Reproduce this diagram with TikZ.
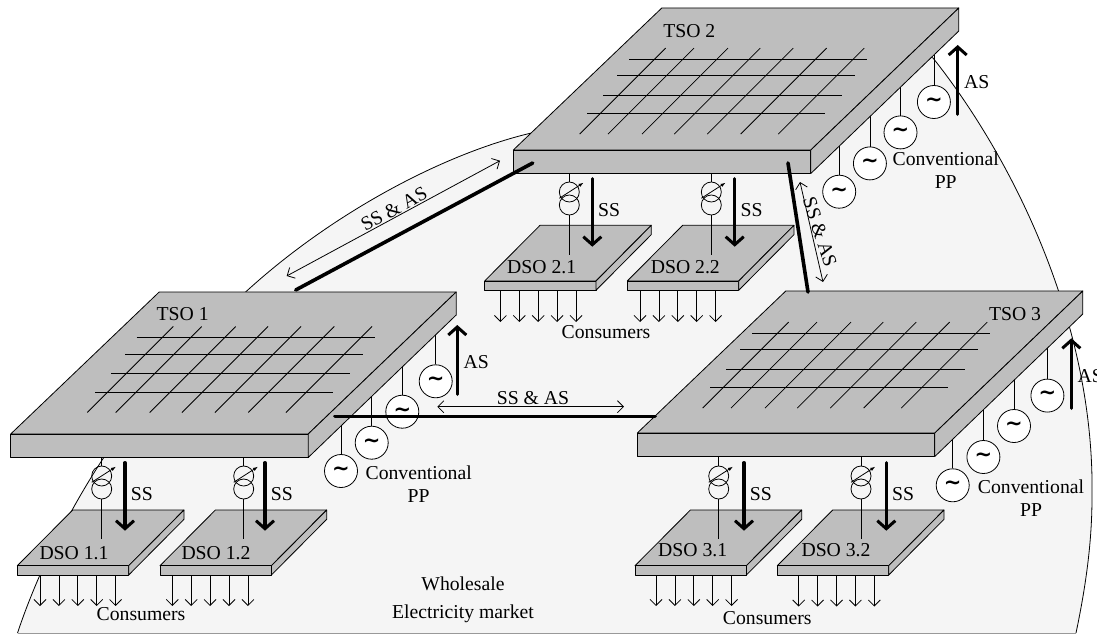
\documentclass[tikz,border=0pt]{standalone}
\usepackage{amsmath,amssymb,fontspec}
\setmainfont{Liberation Serif}
\newfontfamily\tildefont{DejaVu Sans}
\usetikzlibrary{arrows.meta}
\definecolor{figP}{RGB}{190,190,190}
\definecolor{figM}{RGB}{245,245,245}

\begin{document}
\begin{tikzpicture}[x=1pt,y=-1pt,line width=0.8pt,font=\fontsize{19.7}{23}\selectfont,
  plate/.style={draw=black,fill=figP,line join=round},
  gen/.style={draw,circle,fill=white,minimum size=33pt,inner sep=0pt,font=\fontsize{21}{21}\tildefont\bfseries},
  trafo/.style={draw,circle,minimum size=20pt,inner sep=0pt},
  txt/.style={inner sep=0pt,align=center},
  power/.style={line width=3.4pt,line cap=round,-{Straight Barb[length=8pt,width=18pt,line width=3pt]}},
  tie/.style={line width=3.6pt,line cap=round},
  flow/.style={{Straight Barb[length=6pt,width=12pt]}-{Straight Barb[length=6pt,width=12pt]}},
  load/.style={-{Straight Barb[length=6pt,width=12pt]}}]
\useasboundingbox (0,0) rectangle (1097,634);
% market area behind everything
\def\marketline{(17.5,633) .. controls (52,530) and (125,400) .. (246.7,291)
  .. controls (330,215) and (440,155) .. (530,133.3)
  .. controls (620,109) and (860,30) .. (933,58)
  .. controls (1010,155) and (1095,320) .. (1092,497)
  .. controls (1092,545) and (1085,590) .. (1076,633)}
\fill[figM] \marketline -- cycle;
\draw \marketline;
\draw[black!40] (17.5,633) -- (1076,633);
% generators and their leads
\foreach \t/\dx/\dy in {1/0/0,2/498.2/-279.3,3/611.7/14.3}{
  \foreach \g/\gx/\gy/\ly in {a/341/471/425,b/371.7/442.7/395,c/402.3/411.7/365,d/435.7/381.3/334}{
    \node[gen] (gen\t\g) at (\gx+\dx,\gy+\dy) {\char`\~};
    \coordinate (lead\t\g) at (\gx+\dx,\ly+\dy);
    \draw (gen\t\g) -- (lead\t\g);
  }
}
% TSO plates with their grids
\foreach \t/\ox/\oy/\gx/\gy in {1/10.7/434/0/0,2/513.3/150/492.3/-278.4,3/637.3/433/615.3/-4.4}{
  \begin{scope}[shift={(\ox,\oy)}]
    \draw[plate] (0,0) -- (148.5,-142) -- (445.5,-142) -- (297.5,0) -- cycle;
    \draw[plate] (0,0) rectangle (297.5,23.5);
    \draw[plate] (297.5,0) -- (445.5,-142) -- (445.5,-119) -- (297.5,23.5) -- cycle;
  \end{scope}
  \begin{scope}[shift={(\gx,\gy)}]
    \foreach \y/\xa/\xb in {337.7/136.7/375,354/125/363,373.3/111/350,392/95/333}
      \draw (\xa,\y) -- (\xb,\y);
    \foreach \x in {87.3,115.7,149.7,182,215,248.3,286}
      \draw (\x,412.5) -- (\x+86,326.5);
  \end{scope}
}
\node[txt] (tso1) at (182.7,314.3) {TSO 1};
\node[txt] (tso2) at (689.3,30.7) {TSO 2};
\node[txt] (tso3) at (1015,314.3) {TSO 3};
% DSO plates and consumers
\foreach \d/\ox/\oy/\first/\tip in {11/17.3/565.7/22.7/606,12/160/565.7/12.3/606,21/484.6/281/15.8/322,22/627.3/281/12.7/322,31/635/565.7/21/606,32/777.3/565.7/21.4/606.5}{
  \begin{scope}[shift={(\ox,\oy)}]
    \draw[plate] (0,0) -- (55.4,-55.7) -- (166.7,-55.7) -- (111.4,0) -- cycle;
    \draw[plate] (0,0) rectangle (111.4,9.3);
    \draw[plate] (111.4,0) -- (166.7,-55.7) -- (166.7,-46.4) -- (111.4,9.3) -- cycle;
  \end{scope}
  \foreach \i in {0,1,2,3,4}{
    \coordinate (out\d\i) at (\ox+\first+18.9*\i,\oy+9.3);
    \coordinate (end\d\i) at (\ox+\first+18.9*\i,\tip);
    \draw[load] (out\d\i) -- (end\d\i);
  }
}
\node[txt] (dso11) at (74,553.3) {DSO 1.1};
\node[txt] (dso12) at (216,553.3) {DSO 1.2};
\node[txt] (dso21) at (541.7,267.3) {DSO 2.1};
\node[txt] (dso22) at (685.3,267.3) {DSO 2.2};
\node[txt] (dso31) at (692.7,550) {DSO 3.1};
\node[txt] (dso32) at (836,550) {DSO 3.2};
% transformers and SS arrows
\foreach \d/\tx/\ty/\sx in {11/101.7/457/125,12/243.7/457/265,21/569.3/173/592.3,22/711.3/173/734.7,31/718.7/457/744,32/861/457/886.3}{
  \node[trafo] (up\d) at (\tx,\ty+19) {};
  \node[trafo] (lo\d) at (\tx,\ty+32) {};
  \coordinate (top\d) at (\tx,\ty);
  \coordinate (bot\d) at (\tx,\ty+82);
  \draw (top\d) -- (up\d);
  \draw (lo\d) -- (bot\d);
  \draw[-{Latex[length=5pt,width=3.5pt]}] (\tx-10,\ty+25.3) -- (\tx+14.3,\ty+9.7);
  \coordinate (ssa\d) at (\sx,\ty+5.7);
  \coordinate (ssb\d) at (\sx,\ty+73.7);
  \draw[power] (ssa\d) -- (ssb\d);
  \node[txt,anchor=west] (ss\d) at (\sx+5.5,\ty+37.5) {SS};
}
% AS arrows
\foreach \t/\x/\ya/\yb in {1/457.3/394.3/325,2/957.7/114.3/45,3/1071.3/408.3/338.3}{
  \coordinate (asa\t) at (\x,\ya);
  \coordinate (asb\t) at (\x,\yb);
  \draw[power] (asa\t) -- (asb\t);
  \node[txt,anchor=west] (as\t) at (\x+6,\ya-32) {AS};
}
\node[txt] (pp1) at (418.7,484.5) {Conventional\\PP};
\node[txt] (pp2) at (945.7,170.5) {Conventional\\PP};
\node[txt] (pp3) at (1031,498.5) {Conventional\\PP};
% ties between the TSOs
\coordinate (tie1a) at (295.7,290);
\coordinate (tie1b) at (532.7,163);
\draw[tie] (tie1a) -- (tie1b);
\coordinate (tie2a) at (788,163);
\coordinate (tie2b) at (808,292);
\draw[tie] (tie2a) -- (tie2b);
\coordinate (tie3a) at (335,416.3);
\coordinate (tie3b) at (655,416.3);
\draw[tie] (tie3a) -- (tie3b);
% exchanges
\coordinate (flow1a) at (286.7,276);
\coordinate (flow1b) at (500,160.7);
\draw[flow] (flow1a) -- (flow1b);
\node[txt,rotate=28.4] (sa1) at (394,209) {SS \& AS};
\coordinate (flow2a) at (800,182);
\coordinate (flow2b) at (823,282);
\draw[flow] (flow2a) -- (flow2b);
\node[txt,rotate=-72] (sa2) at (820,232) {SS \& AS};
\coordinate (flow3a) at (437.3,406.7);
\coordinate (flow3b) at (624,406.7);
\draw[flow] (flow3a) -- (flow3b);
\node[txt] (sa3) at (533,397.7) {SS \& AS};
% labels at the bottom
\node[txt] (con1) at (141,614.3) {Consumers};
\node[txt] (con2) at (606,331.7) {Consumers};
\node[txt] (con3) at (767.3,617.7) {Consumers};
\node[txt] (market) at (463,599.5) {Wholesale\\[5pt]Electricity market};
\end{tikzpicture}
\end{document}
